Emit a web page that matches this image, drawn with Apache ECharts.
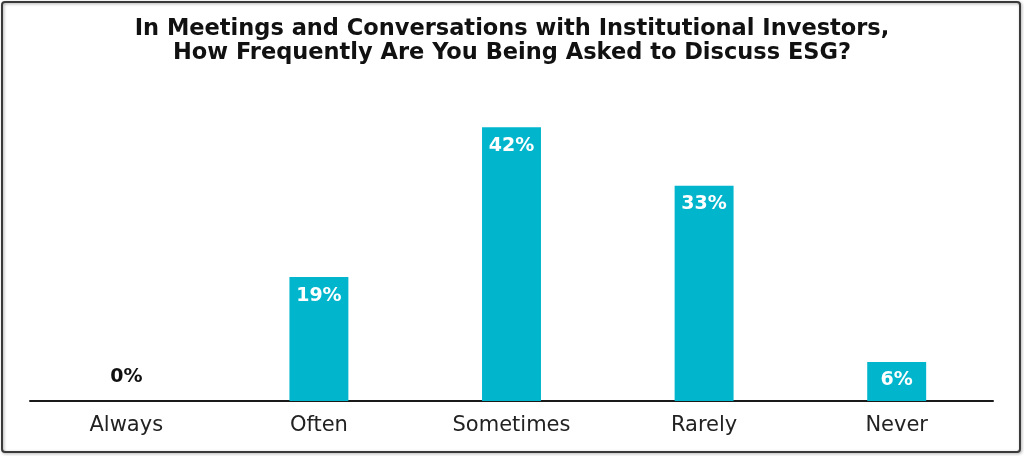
<!DOCTYPE html>
<html>
<head>
<meta charset="utf-8">
<script src="https://cdn.jsdelivr.net/npm/echarts@6/dist/echarts.min.js"></script>
<style>html,body{margin:0;padding:0;background:#fff;}#c{width:1024px;height:456px;}</style>
</head>
<body>
<div id="c"></div>
<script>
const titleLines = ["In Meetings and Conversations with Institutional Investors,", "How Frequently Are You Being Asked to Discuss ESG?"];
const categories = ["Always", "Often", "Sometimes", "Rarely", "Never"];
const values = [0, 19, 42, 33, 6];

const chart = echarts.init(document.getElementById('c'), null, {renderer: 'canvas'});
chart.setOption({
  animation: false,
  backgroundColor: '#ffffff',
  title: {
    text: titleLines.join('\n'),
    left: 'center',
    top: 12,
    textStyle: {fontFamily: 'DejaVu Sans', fontWeight: 'bold', fontSize: 22.5, color: '#111', lineHeight: 24}
  },
  graphic: [{
    type: 'rect',
    shape: {x: 2, y: 2, width: 1018, height: 450, r: 3},
    style: {fill: 'none', stroke: '#3a3a3a', lineWidth: 2, shadowColor: 'rgba(0,0,0,0.35)', shadowBlur: 3, shadowOffsetX: 1, shadowOffsetY: 1},
    silent: true
  }],
  grid: {left: 30, right: 31, top: 75, bottom: 55},
  xAxis: {
    type: 'category',
    data: categories,
    axisLine: {lineStyle: {color: '#1a1a1a', width: 2}},
    axisTick: {show: false},
    axisLabel: {fontFamily: 'DejaVu Sans', fontSize: 21, color: '#222', margin: 14}
  },
  yAxis: {
    type: 'value', min: 0, max: 50, show: false, splitLine: {show: false}
  },
  series: [{
    type: 'bar',
    data: values.map(v => v === 0 ? {value: v, label: {position: 'top', distance: 14, color: '#111'}} : v),
    barWidth: '30.6%',
    itemStyle: {color: '#00B5CC'},
    label: {
      show: true,
      position: 'insideTop',
      distance: 9,
      formatter: '{c}%',
      fontFamily: 'DejaVu Sans',
      fontWeight: 'bold',
      fontSize: 19,
      color: '#ffffff'
    }
  }]
});
</script>
</body>
</html>
